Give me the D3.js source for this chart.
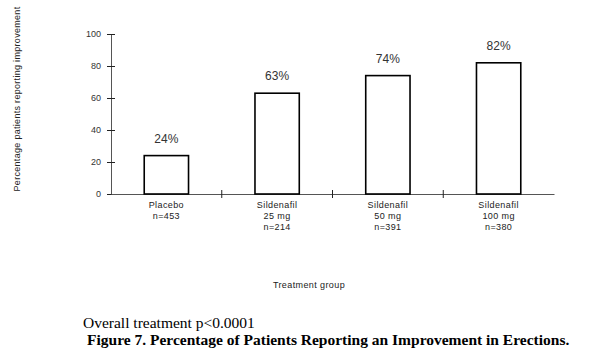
<!DOCTYPE html>
<html><head><meta charset="utf-8">
<script src="https://cdn.jsdelivr.net/npm/d3@7"></script>
<style>body{margin:0;background:#fff}svg{display:block}</style>
</head><body><svg id="c" width="600" height="363"></svg>
<script>
const categories = ["Placebo", "Sildenafil 25 mg", "Sildenafil 50 mg", "Sildenafil 100 mg"];
const categoryLines = [["Placebo", "n=453"], ["Sildenafil", "25 mg", "n=214"], ["Sildenafil", "50 mg", "n=391"], ["Sildenafil", "100 mg", "n=380"]];
const values = [24, 63, 74, 82];
const yTicks = [0, 20, 40, 60, 80, 100];

const svg = d3.select("#c");
const m = {left: 111, right: 554, top: 34, bottom: 194};
const x = d3.scaleBand().domain(categories).range([m.left, m.right]).padding(0);
const y = d3.scaleLinear().domain([0, 100]).range([m.bottom, m.top]);
const barW = x.bandwidth() * 0.4;
const sans = "Liberation Sans, Arial, sans-serif";
const serif = "Liberation Serif, Times New Roman, serif";

// y axis
const ya = svg.append("g").attr("transform", `translate(${m.left},0)`)
  .call(d3.axisLeft(y).tickValues(yTicks).tickSize(4).tickPadding(6));
ya.select(".domain").attr("stroke", "#555");
ya.selectAll(".tick line").attr("x1", -4).attr("x2", 4).attr("stroke", "#222");
ya.selectAll("text").attr("font-family", sans).attr("font-size", 9).attr("fill", "#333");

// x axis
const xa = svg.append("g").attr("transform", `translate(0,${m.bottom})`)
  .call(d3.axisBottom(x).tickSize(0).tickFormat(""));
xa.select(".domain").attr("stroke", "#555");
xa.selectAll(".tick").remove();
svg.append("g").selectAll("line").data(categories.slice(1)).join("line")
  .attr("x1", d => x(d)).attr("x2", d => x(d))
  .attr("y1", m.bottom - 4).attr("y2", m.bottom + 4)
  .attr("stroke", "#222");

// bars
svg.append("g").selectAll("rect").data(values).join("rect")
  .attr("x", (d, i) => x(categories[i]) + (x.bandwidth() - barW) / 2)
  .attr("y", d => y(d))
  .attr("width", barW)
  .attr("height", d => y(0) - y(d))
  .attr("fill", "#fff").attr("stroke", "#000").attr("stroke-width", 1.6);

// value labels
svg.append("g").selectAll("text").data(values).join("text")
  .attr("x", (d, i) => x(categories[i]) + x.bandwidth() / 2)
  .attr("y", d => y(d) - 13)
  .attr("text-anchor", "middle")
  .attr("font-family", sans).attr("font-size", 12).attr("fill", "#333")
  .text(d => d + "%");

// category labels
const cl = svg.append("g").selectAll("text").data(categoryLines).join("text")
  .attr("text-anchor", "middle")
  .attr("font-family", sans).attr("font-size", 9).attr("letter-spacing", 0.4).attr("fill", "#222");
cl.each(function(lines, i) {
  d3.select(this).selectAll("tspan").data(lines).join("tspan")
    .attr("x", x(categories[i]) + x.bandwidth() / 2)
    .attr("y", (d, j) => 208 + j * 11)
    .text(d => d);
});

// axis titles
svg.append("text").attr("x", 309).attr("y", 288).attr("text-anchor", "middle")
  .attr("font-family", sans).attr("font-size", 9).attr("letter-spacing", 0.4).attr("fill", "#222")
  .text("Treatment group");
svg.append("text").attr("transform", "translate(20,99) rotate(-90)").attr("text-anchor", "middle")
  .attr("font-family", sans).attr("font-size", 9).attr("letter-spacing", 0.3).attr("fill", "#222")
  .text("Percentage patients reporting improvement");

// footer
svg.append("text").attr("x", 83).attr("y", 328)
  .attr("font-family", serif).attr("font-size", 15.5).attr("fill", "#000")
  .text("Overall treatment p<0.0001");
svg.append("text").attr("x", 87).attr("y", 345)
  .attr("font-family", serif).attr("font-size", 15.5).attr("font-weight", "bold").attr("fill", "#000")
  .text("Figure 7. Percentage of Patients Reporting an Improvement in Erections.");
</script></body></html>
